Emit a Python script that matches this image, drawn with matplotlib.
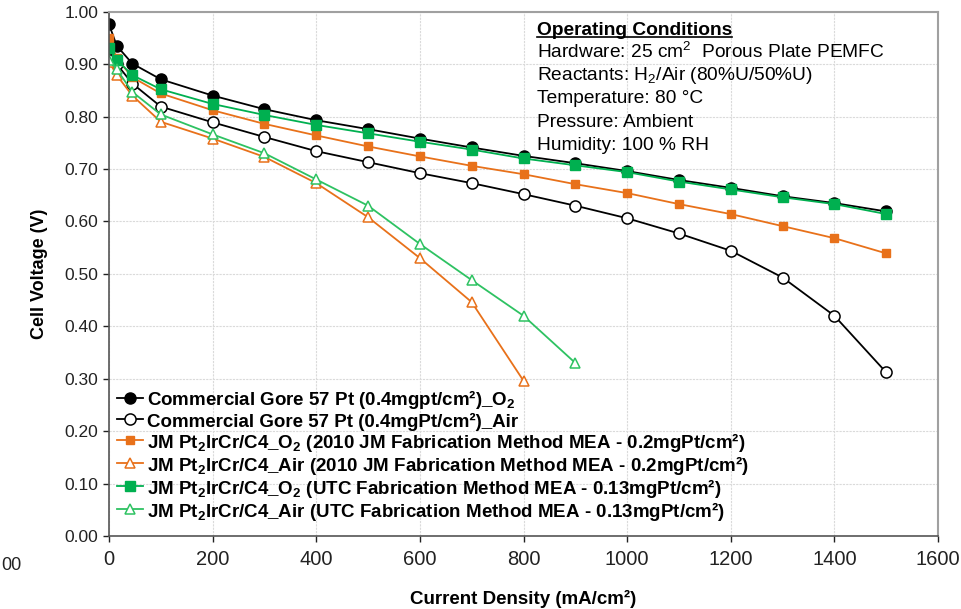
import numpy as np
import matplotlib
matplotlib.use("Agg")
import matplotlib.pyplot as plt

plt.rcParams['font.family'] = ['Liberation Sans', 'DejaVu Sans']

# current density (mA/cm2)
i_full = [0, 15, 45, 100, 200, 300, 400, 500, 600, 700, 800, 900, 1000,
          1100, 1200, 1300, 1400, 1500]
i_jm_air = [0, 15, 45, 100, 200, 300, 400, 500, 600, 700, 800]
i_utc_air = [0, 15, 45, 100, 200, 300, 400, 500, 600, 700, 800, 900]

# cell voltage (V)
gore_o2 = [0.976, 0.935, 0.901, 0.871, 0.840, 0.814, 0.793, 0.776, 0.758,
           0.741, 0.725, 0.711, 0.696, 0.679, 0.664, 0.648, 0.635, 0.619]
gore_air = [0.928, 0.900, 0.863, 0.819, 0.789, 0.761, 0.734, 0.713, 0.692,
            0.673, 0.652, 0.630, 0.606, 0.577, 0.544, 0.493, 0.420, 0.312]
jm_o2 = [0.949, 0.911, 0.875, 0.844, 0.812, 0.786, 0.764, 0.743, 0.724,
         0.706, 0.690, 0.671, 0.654, 0.633, 0.614, 0.591, 0.568, 0.539]
jm_air = [0.905, 0.879, 0.840, 0.790, 0.758, 0.723, 0.673, 0.608, 0.530,
          0.446, 0.296]
utc_o2 = [0.930, 0.908, 0.879, 0.852, 0.824, 0.803, 0.784, 0.768, 0.752,
          0.737, 0.720, 0.707, 0.694, 0.676, 0.661, 0.646, 0.633, 0.614]
utc_air = [0.908, 0.890, 0.847, 0.804, 0.766, 0.730, 0.680, 0.630, 0.557,
           0.488, 0.420, 0.330]

sub2 = r'$_\mathregular{2}$'
labels = [
    'Commercial Gore 57 Pt (0.4mgpt/cm²)_O' + sub2,
    'Commercial Gore 57 Pt (0.4mgPt/cm²)_Air',
    'JM Pt' + sub2 + 'IrCr/C4_O' + sub2 + ' (2010 JM Fabrication Method MEA - 0.2mgPt/cm²)',
    'JM Pt' + sub2 + 'IrCr/C4_Air (2010 JM Fabrication Method MEA - 0.2mgPt/cm²)',
    'JM Pt' + sub2 + 'IrCr/C4_O' + sub2 + ' (UTC Fabrication Method MEA - 0.13mgPt/cm²)',
    'JM Pt' + sub2 + 'IrCr/C4_Air (UTC Fabrication Method MEA - 0.13mgPt/cm²)',
]

conditions = [
    'Hardware: 25 cm$^\\mathregular{2}$  Porous Plate PEMFC',
    'Reactants: H' + sub2 + '/Air (80%U/50%U)',
    'Temperature: 80 °C',
    'Pressure: Ambient',
    'Humidity: 100 % RH',
]

black = '#000000'
orange = '#E8711A'
green = '#00B050'
green_lt = '#2EC262'

fig = plt.figure(figsize=(9.61, 6.09), dpi=100)
ax = fig.add_axes([0.1134, 0.1199, 0.8627, 0.8609])

lw = 1.3
ax.plot(i_full, gore_o2, '-o', color=black, lw=lw, ms=8, label=labels[0])
ax.plot(i_full, gore_air, '-o', color=black, lw=lw, ms=8,
        mfc='white', mew=1.1, label=labels[1])
ax.plot(i_full, jm_o2, '-s', color=orange, lw=lw, ms=6, label=labels[2])
ax.plot(i_jm_air, jm_air, '-^', color=orange, lw=lw, ms=7,
        mfc='white', mew=1.1, label=labels[3])
ax.plot(i_full, utc_o2, '-s', color=green, lw=lw, ms=7, label=labels[4])
ax.plot(i_utc_air, utc_air, '-^', color=green_lt, lw=lw, ms=7,
        mfc='white', mew=1.1, label=labels[5])

ax.set_xlim(0, 1600)
ax.set_ylim(0, 1.0)
ax.set_xticks(np.arange(0, 1601, 200))
ax.set_yticks(np.arange(0, 1.001, 0.1))
ax.set_yticklabels([f'{v:.2f}' for v in np.arange(0, 1.001, 0.1)])
ax.tick_params(colors='#222222', length=4, width=1, direction='out')
ax.tick_params(axis='y', labelsize=12.5)
ax.tick_params(axis='x', labelsize=14.5, pad=6)
ax.grid(True, color='#dadada', lw=0.8, ls=(0, (2, 1)))
ax.set_axisbelow(True)
for s in ['left', 'bottom']:
    ax.spines[s].set_color('#555555')
    ax.spines[s].set_linewidth(1.2)
for s in ['top', 'right']:
    ax.spines[s].set_color('#a0a0a0')
    ax.spines[s].set_linewidth(1.5)

ax.set_ylabel('Cell Voltage (V)', fontsize=13, fontweight='bold', labelpad=12)
ax.set_xlabel('Current Density (mA/cm²)', fontsize=13.5, fontweight='bold',
              labelpad=15)

leg = ax.legend(loc='lower left', bbox_to_anchor=(-0.006, 0.0), frameon=False,
                prop={'weight': 'bold', 'size': 13.5}, handlelength=1.4,
                handleheight=1.1, handletextpad=0.2, labelspacing=0.0,
                borderaxespad=0.3)

# operating conditions box
tx = 0.516
t0 = ax.text(tx, 0.965, 'Operating Conditions', transform=ax.transAxes,
             fontsize=13.8, fontweight='bold', va='center', ha='left')
for k, line in enumerate(conditions):
    ax.text(tx, 0.923 - k * 0.0445, line, transform=ax.transAxes,
            fontsize=13.8, va='center', ha='left')

fig.canvas.draw()
bb = t0.get_window_extent().transformed(ax.transAxes.inverted())
ax.plot([bb.x0, bb.x1], [bb.y0 + 0.002, bb.y0 + 0.002], color='black',
        lw=1.2, transform=ax.transAxes, clip_on=False)

fig.text(0.001, 1 - 565 / 609, '00', fontsize=13, color='#222222',
         va='center', ha='left')

fig.savefig('out.png', dpi=100)
